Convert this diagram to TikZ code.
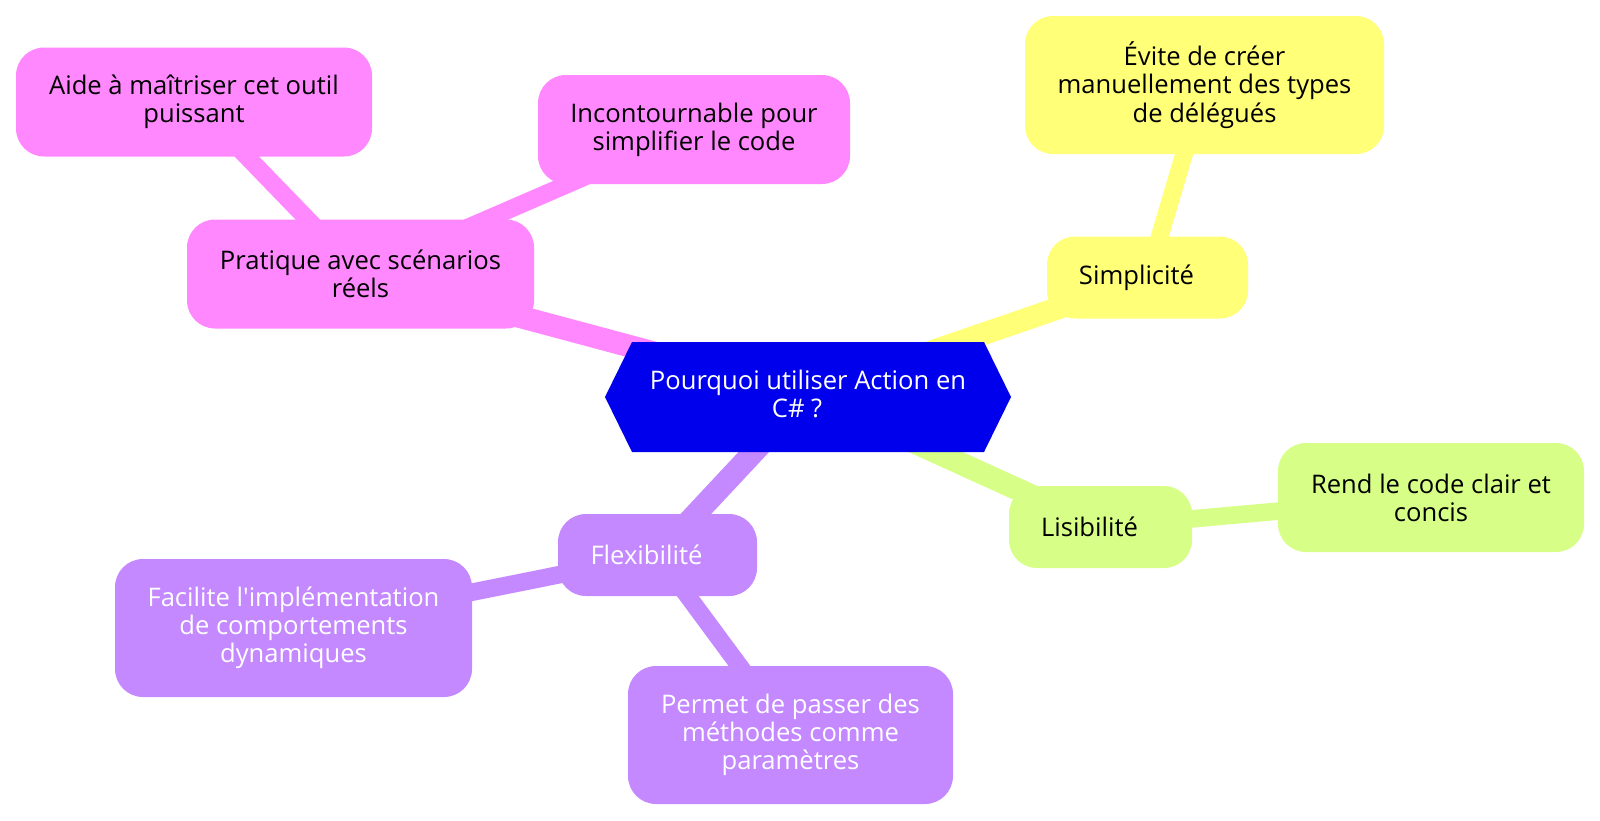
\documentclass[tikz,border=0pt]{standalone}
\usepackage{fontspec}
\setmainfont{Open Sans}[Ligatures=TeXOff]
\definecolor{cblue}{HTML}{0000EC}
\definecolor{cpink}{HTML}{FF88FF}
\definecolor{cyellow}{HTML}{FFFF78}
\definecolor{clime}{HTML}{D7FF88}
\definecolor{cpurple}{HTML}{C488FF}
\pgfdeclarelayer{edges}
\pgfdeclarelayer{shapes}
\pgfsetlayers{edges,shapes,main}
\begin{document}
\begin{tikzpicture}[x=1pt,y=-1pt,
  box/.style={rounded corners=28pt, inner sep=0pt, outer sep=0pt, align=center,
    font=\fontsize{25.6}{28.2}\selectfont},
  pinkbox/.style={box, fill=cpink, text=black},
  yellowbox/.style={box, fill=cyellow, text=black},
  limebox/.style={box, fill=clime, text=black},
  purplebox/.style={box, fill=cpurple, text=white},
  oneline/.style={minimum height=82pt},
  twoline/.style={minimum height=109pt},
  threeline/.style={minimum height=138pt},
  lvlone/.style={line width=22.4pt},
  lvltwo/.style={line width=17.6pt}]
\useasboundingbox (0,0) rectangle (1600,820);

% root
\node[inner sep=0pt, outer sep=0pt, minimum width=406pt, minimum height=110pt, align=center,
  text=white, font=\fontsize{25.6}{28.2}\selectfont] (root) at (808,394)
  {Pourquoi utiliser Action en\\C\# ?\hspace*{22pt}};
\begin{pgfonlayer}{shapes}
\fill[cblue] ([xshift=27pt,yshift=-3pt]root.north west) -- ([xshift=-27pt,yshift=-3pt]root.north east)
  -- ([yshift=-3pt]root.east) -- ([xshift=-27pt,yshift=-3pt]root.south east)
  -- ([xshift=27pt,yshift=-3pt]root.south west) -- ([yshift=-3pt]root.west) -- cycle;
\end{pgfonlayer}

% pink branch
\node[pinkbox, twoline, minimum width=347pt] (prat) at (360.5,274) {Pratique avec scénarios\\réels};
\node[pinkbox, twoline, minimum width=356pt] (aide) at (194,102) {Aide à maîtriser cet outil\\puissant};
\node[pinkbox, twoline, minimum width=312pt] (inco) at (694,129.5) {Incontournable pour\\simplifier le code};

% yellow branch
\node[yellowbox, oneline, minimum width=201pt] (simp) at (1147.5,277.5) {Simplicité\hspace*{22pt}};
\node[yellowbox, threeline, minimum width=359pt] (evite) at (1204.5,85) {Évite de créer\\manuellement des types\\de délégués};

% lime branch
\node[limebox, oneline, minimum width=183pt] (lisi) at (1100.5,527) {Lisibilité\hspace*{22pt}};
\node[limebox, twoline, minimum width=306pt] (rend) at (1431,497.5) {Rend le code clair et\\concis};

% purple branch
\node[purplebox, oneline, minimum width=199pt] (flex) at (657.5,555) {Flexibilité\hspace*{22pt}};
\node[purplebox, threeline, minimum width=357pt] (faci) at (293.5,628) {Facilite l'implémentation\\de comportements\\dynamiques};
\node[purplebox, threeline, minimum width=325pt] (perm) at (790.5,735) {Permet de passer des\\méthodes comme\\paramètres};

\begin{pgfonlayer}{edges}
\draw[lvlone, cpink] (root.center) -- (prat.center);
\draw[lvltwo, cpink] (prat.center) -- (aide.center);
\draw[lvltwo, cpink] (prat.center) -- (inco.center);
\draw[lvlone, cyellow] (root.center) -- (simp.center);
\draw[lvltwo, cyellow] (simp.center) -- (evite.center);
\draw[lvlone, clime] (root.center) -- (lisi.center);
\draw[lvltwo, clime] (lisi.center) -- (rend.center);
\draw[lvlone, cpurple] (root.center) -- (flex.center);
\draw[lvltwo, cpurple] (flex.center) -- (faci.center);
\draw[lvltwo, cpurple] (flex.center) -- (perm.center);
\end{pgfonlayer}
\end{tikzpicture}
\end{document}
